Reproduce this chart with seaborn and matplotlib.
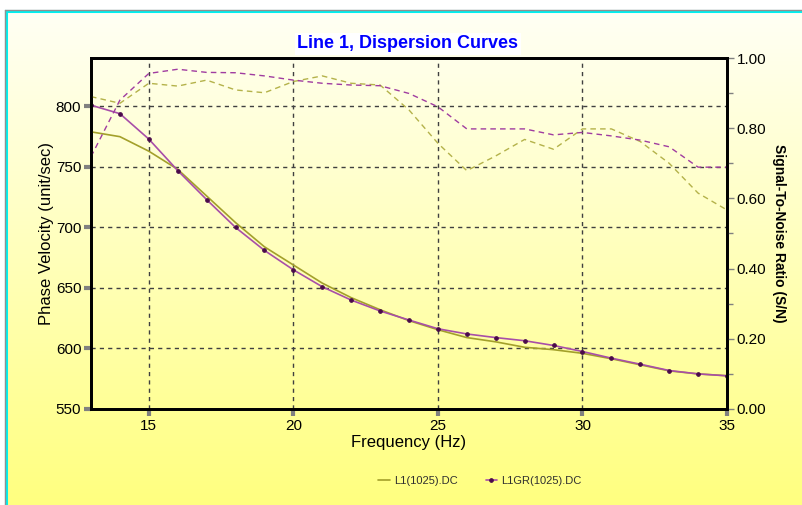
import numpy as np
import pandas as pd
import matplotlib
matplotlib.use("Agg")
import matplotlib.pyplot as plt
import seaborn as sns

# Frequencies (Hz)
freq = list(range(13, 36))

# Phase velocity (unit/sec)
vel_l1 = [779, 775, 763, 748, 726, 704, 684, 669, 654, 642, 632, 623, 615.5,
          609, 605.5, 601, 599, 596, 591.5, 586.5, 581.5, 579, 577.5]
vel_l1gr = [801, 794, 773, 747, 723, 700, 681, 665, 651, 640, 631, 623.5, 616.3,
            612, 609, 606.4, 602.5, 597.5, 592, 587, 581.8, 579, 577.4]

# Signal-to-noise ratio
snr_l1 = [0.890, 0.871, 0.928, 0.920, 0.937, 0.909, 0.901, 0.933, 0.949, 0.928,
          0.923, 0.852, 0.757, 0.679, 0.721, 0.768, 0.740, 0.798, 0.798, 0.762,
          0.700, 0.615, 0.567]
snr_l1gr = [0.719, 0.880, 0.956, 0.968, 0.959, 0.958, 0.949, 0.937, 0.928, 0.923,
            0.921, 0.899, 0.861, 0.798, 0.798, 0.798, 0.781, 0.788, 0.778, 0.766,
            0.747, 0.689, 0.689]

series_names = ["L1(1025).DC", "L1GR(1025).DC"]

df = pd.DataFrame({"freq": freq, "vel_l1": vel_l1, "vel_l1gr": vel_l1gr,
                   "snr_l1": snr_l1, "snr_l1gr": snr_l1gr})

sns.set_theme(style="white")
plt.rcParams["font.family"] = ["Liberation Sans", "DejaVu Sans"]
plt.rcParams["text.color"] = "black"
plt.rcParams["axes.labelcolor"] = "black"

OLIVE = "#a3a02a"
OLIVE_DASH = "#b4b24a"
PURPLE = "#a84ea8"
PURPLE_DASH = "#a03ca0"
MARK = "#4a0a4a"

fig = plt.figure(figsize=(8.02, 5.05), dpi=100)
fig.patch.set_facecolor("white")

# Gradient panel behind everything
bg = fig.add_axes([6 / 802, 0, 1, 1 - 11 / 505], zorder=-10)
grad = np.linspace(0, 1, 256).reshape(-1, 1)
top = np.array([1.0, 1.0, 0.96])
bottom = np.array([1.0, 1.0, 0.50])
img = top + (bottom - top) * grad[:, :, None]
bg.imshow(img, aspect="auto", extent=[0, 1, 0, 1], origin="upper")
bg.set_xlim(0, 1)
bg.set_ylim(0, 1)
bg.set_xticks([])
bg.set_yticks([])
for s in ["right", "bottom"]:
    bg.spines[s].set_visible(False)
for s in ["top", "left"]:
    bg.spines[s].set_color("#00f0f0")
    bg.spines[s].set_linewidth(2.2)
fig.add_artist(plt.Line2D([4.5 / 802, 4.5 / 802], [0, 1 - 9.5 / 505],
                          color="#909090", lw=1, transform=fig.transFigure))
fig.add_artist(plt.Line2D([4.5 / 802, 1], [1 - 9.5 / 505, 1 - 9.5 / 505],
                          color="#909090", lw=1, transform=fig.transFigure))

ax = fig.add_axes([91 / 802, 1 - 409 / 505, (727 - 91) / 802, (409 - 58) / 505])
ax.patch.set_alpha(0)
ax2 = ax.twinx()
ax2.patch.set_alpha(0)

# Dispersion curves
sns.lineplot(data=df, x="freq", y="vel_l1", ax=ax, color=OLIVE, lw=1.2,
             label=series_names[0], legend=False, zorder=4)
sns.lineplot(data=df, x="freq", y="vel_l1gr", ax=ax, color=PURPLE, lw=1.2,
             marker="o", markersize=2.6, markerfacecolor=MARK, markeredgecolor=MARK,
             label=series_names[1], legend=False, zorder=5)

# Signal-to-noise curves
sns.lineplot(data=df, x="freq", y="snr_l1", ax=ax2, color=OLIVE_DASH, lw=1,
             linestyle=(0, (4, 3)), legend=False)
sns.lineplot(data=df, x="freq", y="snr_l1gr", ax=ax2, color=PURPLE_DASH, lw=1,
             linestyle=(0, (4, 3)), legend=False)

ax.set_xlim(13, 35)
ax.set_ylim(550, 840)
ax2.set_ylim(0, 1)

ax.set_xticks([15, 20, 25, 30, 35])
ax.set_yticks([550, 600, 650, 700, 750, 800])
ax2.set_yticks([0, 0.2, 0.4, 0.6, 0.8, 1.0])
ax2.set_yticks(np.arange(0.1, 1.0, 0.2), minor=True)
ax2.set_yticklabels([f"{v:.2f}" for v in [0, 0.2, 0.4, 0.6, 0.8, 1.0]])

ax.grid(True, axis="both", color="#404040", linestyle=(0, (3, 3)), lw=1)
ax2.grid(False)

ax.tick_params(axis="both", which="major", direction="out", length=5, width=3,
               color="#808080", labelsize=11, labelcolor="black", pad=2,
               left=True, bottom=True)
ax2.tick_params(axis="y", which="major", direction="out", length=5, width=1,
                color="#808080", labelsize=11, labelcolor="black", pad=2, right=True)
ax2.tick_params(axis="y", which="minor", direction="out", length=4, width=1,
                color="#808080", right=True)

for a in (ax, ax2):
    for s in a.spines.values():
        s.set_color("black")
        s.set_linewidth(2)
        s.set_visible(True)

ax.set_xlabel("Frequency (Hz)", fontsize=12, labelpad=2, color="black")
ax.set_ylabel("Phase Velocity (unit/sec)", fontsize=12, labelpad=1, color="black")
ax2.set_ylabel("Signal-To-Noise Ratio (S/N)", fontsize=10, fontweight="bold",
               rotation=-90, labelpad=14, color="black")

fig.text(408 / 802, 1 - 44 / 505, "Line 1, Dispersion Curves", ha="center", va="center",
         fontsize=13, fontweight="bold", color="#0000ff",
         family=["Liberation Sans Narrow", "Liberation Sans", "DejaVu Sans"],
         bbox=dict(boxstyle="square,pad=0.15", fc="white", ec="none"))

handles, labels = ax.get_legend_handles_labels()
leg = fig.legend(handles, labels, loc="center", bbox_to_anchor=(480 / 802, 1 - 481 / 505),
                 ncol=2, frameon=False, fontsize=8, handlelength=1, handletextpad=0.4,
                 columnspacing=2.5)
for t in leg.get_texts():
    t.set_color("#303030")

fig.savefig("out.png", dpi=100)
